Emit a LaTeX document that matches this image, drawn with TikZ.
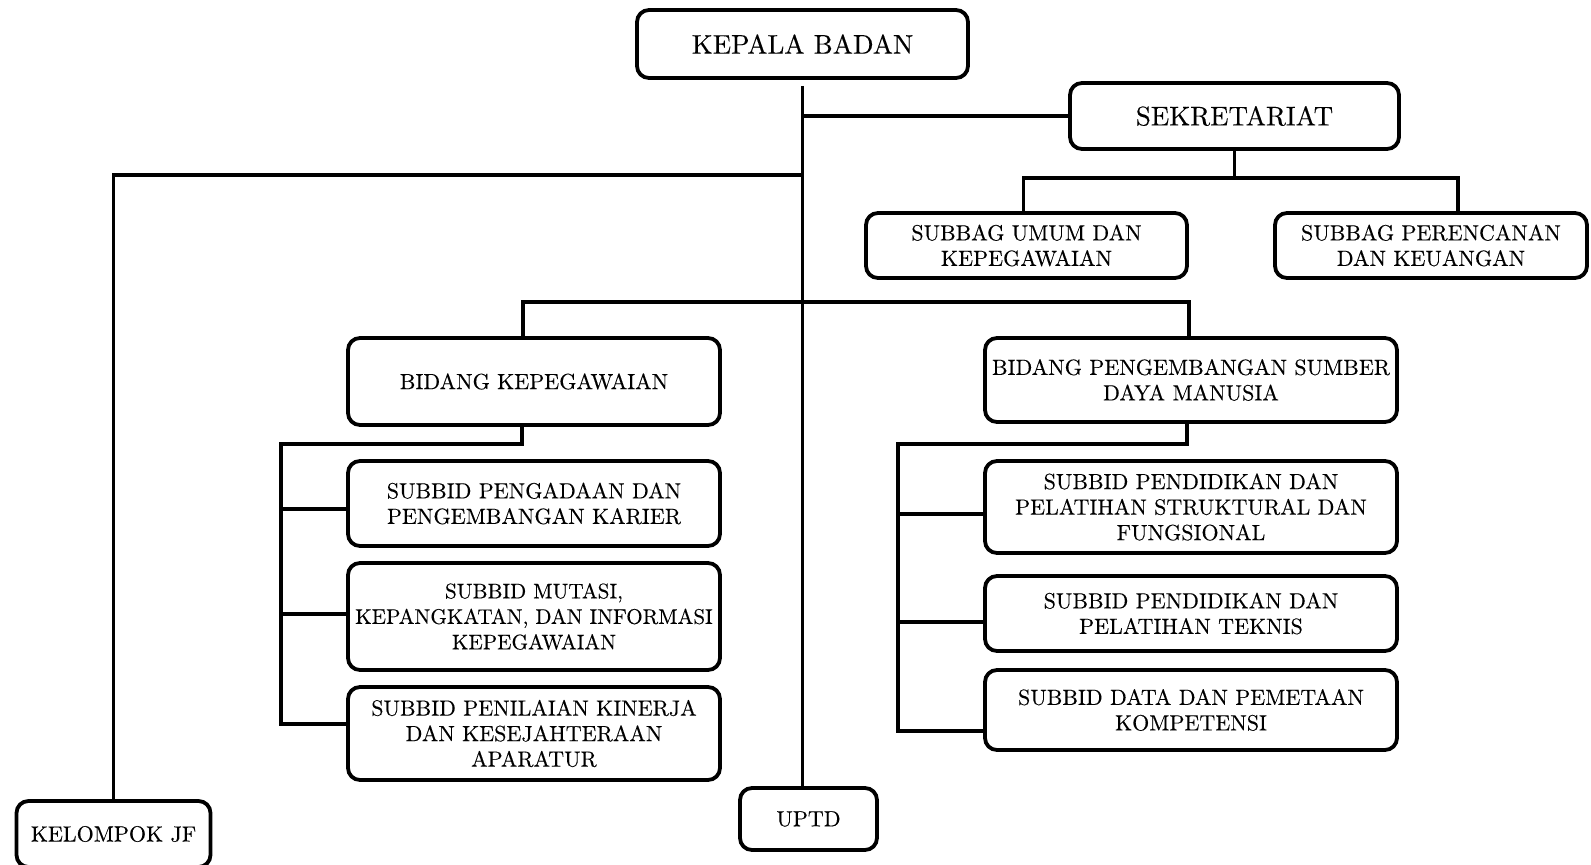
\documentclass[tikz,border=0pt]{standalone}
\usepackage{fontspec}
\setmainfont{lmroman10-regular}[Extension=.otf, FakeBold=0.2]
\begin{document}
\begin{tikzpicture}[x=1pt,y=-1pt,
  box/.style={draw=black, line width=3.8pt, rounded corners=12pt, fill=white, align=center, inner sep=1pt},
  big/.style={font=\fontsize{27}{32}\selectfont},
  mid/.style={font=\fontsize{22}{25.5}\selectfont},
  tight/.style={font=\fontsize{21.1}{25.5}\selectfont},
  sml/.style={font=\fontsize{22}{25.5}\selectfont},
  conn/.style={draw=black, line width=3.4pt}]
\useasboundingbox (0,0) rectangle (1591,865);
% nodes
\node[box,big,minimum width=331pt,minimum height=68pt] (kb) at (802.5,44) {KEPALA BADAN};
\node[box,big,minimum width=329pt,minimum height=66pt] (sek) at (1234.5,116) {SEKRETARIAT};
\node[box,mid,minimum width=321pt,minimum height=65pt] (su) at (1026.5,245.5) {SUBBAG UMUM DAN\\KEPEGAWAIAN};
\node[box,mid,minimum width=312pt,minimum height=65pt] (sp) at (1431,245.5) {SUBBAG PERENCANAN\\DAN KEUANGAN};
\node[box,mid,minimum width=372pt,minimum height=87pt] (bk) at (534,381.5) {BIDANG KEPEGAWAIAN};
\node[box,mid,minimum width=412pt,minimum height=84pt] (bp) at (1191,380) {BIDANG PENGEMBANGAN SUMBER\\DAYA MANUSIA};
\node[box,mid,minimum width=372pt,minimum height=85pt] (k1) at (534,503.5) {SUBBID PENGADAAN DAN\\PENGEMBANGAN KARIER};
\node[box,tight,minimum width=372pt,minimum height=107pt] (k2) at (534,616.5) {SUBBID MUTASI,\\KEPANGKATAN, DAN INFORMASI\\KEPEGAWAIAN};
\node[box,mid,minimum width=372pt,minimum height=93pt] (k3) at (534,733.5) {SUBBID PENILAIAN KINERJA\\DAN KESEJAHTERAAN\\APARATUR};
\node[box,mid,minimum width=412pt,minimum height=92pt] (s1) at (1191,507) {SUBBID PENDIDIKAN DAN\\PELATIHAN STRUKTURAL DAN\\FUNGSIONAL};
\node[box,mid,minimum width=412pt,minimum height=75pt] (s2) at (1191,613.5) {SUBBID PENDIDIKAN DAN\\PELATIHAN TEKNIS};
\node[box,mid,minimum width=412pt,minimum height=80pt] (s3) at (1191,710) {SUBBID DATA DAN PEMETAAN\\KOMPETENSI};
\node[box,sml,minimum width=194pt,minimum height=66pt] (kj) at (113.5,834) {KELOMPOK JF};
\node[box,sml,minimum width=137pt,minimum height=62pt] (up) at (808.5,819) {UPTD};
% junction coordinates
\coordinate (jl) at (802,175);
\coordinate (js) at (1234.5,178);
\coordinate (jb) at (802,302);
\coordinate (lb) at (281,444);
\coordinate (rb) at (898,444);
\coordinate (k1e) at ([yshift=-5.5pt]k1.west);
\coordinate (k2e) at ([yshift=2.5pt]k2.west);
\coordinate (k3e) at ([yshift=9.5pt]k3.west);
\coordinate (s1e) at ([yshift=-7pt]s1.west);
\coordinate (s2e) at ([yshift=-8.5pt]s2.west);
\coordinate (s3e) at ([yshift=-21pt]s3.west);
% trunk
\draw[conn] ([yshift=-6pt]kb.south) -- (kb.south |- up.north);
\draw[conn] (kb.south |- sek.west) -- (sek.west);
\draw[conn] (jl) -- (kj.north |- jl) -- (kj.north);
% sekretariat children
\draw[conn] (sek.south) -- (js);
\draw[conn] ([xshift=-3pt]su.north) |- (js) -| ([xshift=27pt]sp.north);
% bidang
\draw[conn] ([xshift=-11pt]bk.north) |- (jb) -| ([xshift=-2pt]bp.north);
% left bracket
\draw[conn] ([xshift=-12pt]bk.south) |- (lb) -- (lb |- k3e) -- (k3e);
\draw[conn] (lb |- k1e) -- (k1e);
\draw[conn] (lb |- k2e) -- (k2e);
% right bracket
\draw[conn] ([xshift=-4pt]bp.south) |- (rb) -- (rb |- s3e) -- (s3e);
\draw[conn] (rb |- s1e) -- (s1e);
\draw[conn] (rb |- s2e) -- (s2e);
\end{tikzpicture}
\end{document}
